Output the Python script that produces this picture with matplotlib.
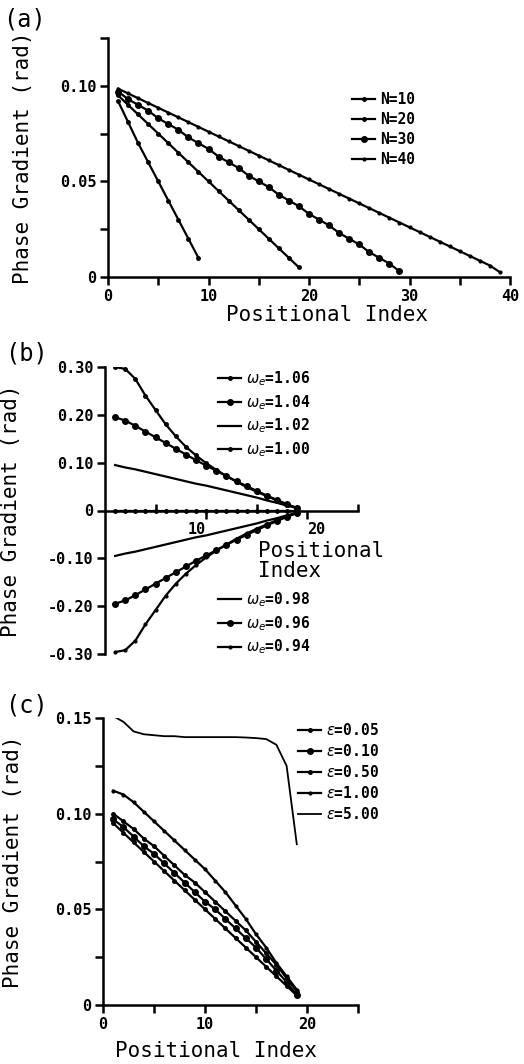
import matplotlib
matplotlib.use("Agg")
import matplotlib.pyplot as plt

# ---- data ----
# (a) phase gradient along chains of different length N
idx_a10 = list(range(1, 10))
idx_a20 = list(range(1, 20))
idx_a30 = list(range(1, 30))
idx_a40 = list(range(1, 40))
grad_n10 = [0.092, 0.081, 0.070, 0.060, 0.050, 0.040, 0.030, 0.020, 0.010]
grad_n20 = [0.095, 0.090, 0.085, 0.080, 0.075, 0.070, 0.065, 0.060, 0.055, 0.050,
            0.045, 0.040, 0.035, 0.030, 0.025, 0.020, 0.015, 0.010, 0.005]
grad_n30 = [0.097, 0.093, 0.090, 0.087, 0.083, 0.080, 0.077, 0.073, 0.070, 0.067,
            0.063, 0.060, 0.057, 0.053, 0.050, 0.047, 0.043, 0.040, 0.037, 0.033,
            0.030, 0.027, 0.023, 0.020, 0.017, 0.013, 0.010, 0.007, 0.003]
grad_n40 = [0.0985, 0.096, 0.0935, 0.091, 0.0885, 0.086, 0.0835, 0.081, 0.0785, 0.076,
            0.0735, 0.071, 0.0685, 0.066, 0.0635, 0.061, 0.0585, 0.056, 0.0535, 0.051,
            0.0485, 0.046, 0.0435, 0.041, 0.0385, 0.036, 0.0335, 0.031, 0.0285, 0.026,
            0.0235, 0.021, 0.0185, 0.016, 0.0135, 0.011, 0.0085, 0.006, 0.0025]
labels_a = ["N=10", "N=20", "N=30", "N=40"]

# (b) different external frequencies
idx_b = list(range(1, 20))
w106 = [0.300, 0.296, 0.275, 0.240, 0.210, 0.180, 0.155, 0.133, 0.115, 0.099,
        0.085, 0.072, 0.060, 0.049, 0.039, 0.030, 0.021, 0.012, 0.005]
w104 = [0.195, 0.188, 0.177, 0.165, 0.153, 0.141, 0.129, 0.117, 0.105, 0.094,
        0.083, 0.072, 0.061, 0.051, 0.041, 0.031, 0.022, 0.013, 0.005]
w102 = [0.095, 0.090, 0.086, 0.081, 0.076, 0.071, 0.066, 0.061, 0.056, 0.052,
        0.047, 0.042, 0.037, 0.032, 0.027, 0.021, 0.016, 0.010, 0.005]
w100 = [0.0] * 19
w098 = [-0.095, -0.090, -0.086, -0.081, -0.076, -0.071, -0.066, -0.061, -0.056, -0.052,
        -0.047, -0.042, -0.037, -0.032, -0.027, -0.021, -0.016, -0.010, -0.005]
w096 = [-0.195, -0.188, -0.177, -0.165, -0.153, -0.141, -0.129, -0.117, -0.105, -0.094,
        -0.083, -0.072, -0.061, -0.051, -0.041, -0.031, -0.022, -0.013, -0.005]
w094 = [-0.296, -0.292, -0.272, -0.238, -0.208, -0.178, -0.153, -0.132, -0.114, -0.098,
        -0.084, -0.071, -0.059, -0.048, -0.038, -0.029, -0.020, -0.012, -0.005]
labels_b_up = [r"$\omega_e$=1.06", r"$\omega_e$=1.04", r"$\omega_e$=1.02", r"$\omega_e$=1.00"]
labels_b_dn = [r"$\omega_e$=0.98", r"$\omega_e$=0.96", r"$\omega_e$=0.94"]

# (c) different coupling strengths
idx_c = list(range(1, 20))
eps005 = [0.095, 0.090, 0.085, 0.080, 0.075, 0.070, 0.065, 0.060, 0.055, 0.050,
          0.045, 0.040, 0.035, 0.030, 0.025, 0.020, 0.015, 0.010, 0.005]
eps010 = [0.097, 0.093, 0.088, 0.083, 0.079, 0.074, 0.069, 0.064, 0.059, 0.054,
          0.050, 0.045, 0.040, 0.035, 0.030, 0.024, 0.018, 0.012, 0.005]
eps050 = [0.100, 0.096, 0.092, 0.087, 0.083, 0.078, 0.073, 0.068, 0.064, 0.059,
          0.054, 0.049, 0.044, 0.039, 0.033, 0.027, 0.021, 0.014, 0.007]
eps100 = [0.112, 0.110, 0.106, 0.101, 0.096, 0.091, 0.086, 0.081, 0.076, 0.071,
          0.065, 0.059, 0.052, 0.045, 0.037, 0.030, 0.022, 0.015, 0.008]
eps500 = [0.151, 0.148, 0.143, 0.1415, 0.141, 0.1405, 0.1405, 0.140, 0.140, 0.140,
          0.140, 0.140, 0.140, 0.1398, 0.1395, 0.139, 0.136, 0.125, 0.084]
labels_c = [r"$\varepsilon$=0.05", r"$\varepsilon$=0.10", r"$\varepsilon$=0.50",
            r"$\varepsilon$=1.00", r"$\varepsilon$=5.00"]

# ---- styling ----
MONO = "DejaVu Sans Mono"
plt.rcParams["font.family"] = MONO
plt.rcParams["mathtext.fontset"] = "dejavusans"
W, H = 524, 1064
tick_font = dict(family=MONO, weight="bold", size=11)
lab_font = dict(family=MONO, size=15)
leg_font = dict(family=MONO, weight="bold", size=10.5)
LW = 1.6


def px_axes(left, top, right, bottom):
    return [left / W, 1 - bottom / H, (right - left) / W, (bottom - top) / H]


def style(ax):
    for s in ["top", "right"]:
        ax.spines[s].set_visible(False)
    for s in ["left", "bottom"]:
        ax.spines[s].set_linewidth(1.8)
    ax.tick_params(which="both", direction="out", length=6, width=1.8, pad=2.5)
    for t in ax.get_xticklabels() + ax.get_yticklabels():
        t.set_fontproperties(matplotlib.font_manager.FontProperties(**tick_font))


def add_legend(ax, handles, labels, x, y):
    leg = ax.legend(handles, labels, loc="upper left", bbox_to_anchor=(x / W, 1 - y / H),
                    bbox_transform=fig.transFigure, frameon=False, borderpad=0,
                    borderaxespad=0, handlelength=1.6, handletextpad=0.3,
                    labelspacing=0.35, prop=leg_font)
    return leg


fig = plt.figure(figsize=(W / 100, H / 100), dpi=100)

# ---------- (a) ----------
ax_a = fig.add_axes(px_axes(108, 38, 510, 277))
la = []
la += ax_a.plot(idx_a10, grad_n10, "k-", lw=LW, marker="o", ms=2.5)
la += ax_a.plot(idx_a20, grad_n20, "k-", lw=LW, marker="o", ms=2.5)
la += ax_a.plot(idx_a30, grad_n30, "k-", lw=LW, marker="o", ms=4)
la += ax_a.plot(idx_a40, grad_n40, "k-", lw=LW, marker="o", ms=2)
ax_a.set_xlim(0, 40)
ax_a.set_ylim(0, 0.125)
ax_a.set_xticks([0, 10, 20, 30, 40], ["0", "10", "20", "30", "40"])
ax_a.set_xticks([5, 15, 25, 35], minor=True)
ax_a.set_yticks([0, 0.05, 0.10], ["0", "0.05", "0.10"])
ax_a.set_yticks([0.025, 0.075, 0.125], minor=True)
style(ax_a)
ax_a.set_ylabel("Phase Gradient (rad)", **lab_font)
ax_a.yaxis.set_label_coords((33 - 108) / 402, 0.5)
ax_a.set_xlabel("Positional Index", **lab_font)
ax_a.xaxis.set_label_coords((327 - 108) / 402, (277 - 305) / 239)
add_legend(ax_a, la, labels_a, 352, 92)
fig.text(3 / W, 1 - 8 / H, "(a)", family=MONO, size=17, va="top", ha="left")

# ---------- (b) ----------
ax_b = fig.add_axes(px_axes(105, 367, 358, 654))
lb = []
lb += ax_b.plot(idx_b, w106, "k-", lw=LW, marker="o", ms=2.5)
lb += ax_b.plot(idx_b, w104, "k-", lw=LW, marker="o", ms=4)
lb += ax_b.plot(idx_b, w102, "k-", lw=LW)
lb += ax_b.plot(idx_b, w100, "k-", lw=LW, marker="o", ms=2.5)
lb2 = []
lb2 += ax_b.plot(idx_b, w098, "k-", lw=LW)
lb2 += ax_b.plot(idx_b, w096, "k-", lw=LW, marker="o", ms=4)
lb2 += ax_b.plot(idx_b, w094, "k-", lw=LW, marker="o", ms=2)
ax_b.set_xlim(0, 25)
ax_b.set_ylim(-0.30, 0.30)
ax_b.spines["bottom"].set_position(("data", 0))
ax_b.set_xticks([10, 20], ["10", "20"])
ax_b.set_xticks([5, 15, 25], minor=True)
ax_b.set_yticks([0.30, 0.20, 0.10, 0, -0.10, -0.20, -0.30],
                ["0.30", "0.20", "0.10", "0", "-0.10", "-0.20", "-0.30"])
style(ax_b)
ax_b.tick_params(axis="x", which="minor", direction="in", length=5)
xl = ax_b.get_xticklabels()
xl[0].set_ha("right")
xl[1].set_ha("left")
ax_b.set_ylabel("Phase Gradient (rad)", **lab_font)
ax_b.yaxis.set_label_coords((21 - 105) / 253, 0.5)
fig.text(258 / W, 1 - 541 / H, "Positional\nIndex", family=MONO, size=15,
         va="top", ha="left", linespacing=1.0)
leg_b = add_legend(ax_b, lb, labels_b_up, 218, 369)
ax_b.add_artist(leg_b)
add_legend(ax_b, lb2, labels_b_dn, 218, 590)
fig.text(5 / W, 1 - 341 / H, "(b)", family=MONO, size=17, va="top", ha="left")

# ---------- (c) ----------
ax_c = fig.add_axes(px_axes(103, 718, 358, 1005))
lc = []
lc += ax_c.plot(idx_c, eps005, "k-", lw=LW, marker="o", ms=2.5)
lc += ax_c.plot(idx_c, eps010, "k-", lw=LW, marker="o", ms=4)
lc += ax_c.plot(idx_c, eps050, "k-", lw=LW, marker="o", ms=2.5)
lc += ax_c.plot(idx_c, eps100, "k-", lw=LW, marker="o", ms=2)
lc += ax_c.plot(idx_c, eps500, "k-", lw=1.3)
ax_c.set_xlim(0, 25)
ax_c.set_ylim(0, 0.15)
ax_c.set_xticks([0, 10, 20], ["0", "10", "20"])
ax_c.set_xticks([5, 15, 25], minor=True)
ax_c.set_yticks([0, 0.05, 0.10, 0.15], ["0", "0.05", "0.10", "0.15"])
ax_c.set_yticks([0.025, 0.075, 0.125], minor=True)
style(ax_c)
ax_c.set_ylabel("Phase Gradient (rad)", **lab_font)
ax_c.yaxis.set_label_coords((23 - 103) / 255, 0.5)
ax_c.set_xlabel("Positional Index", **lab_font)
ax_c.xaxis.set_label_coords((216 - 103) / 255, (1005 - 1041) / 287)
add_legend(ax_c, lc, labels_c, 298, 722)
fig.text(5 / W, 1 - 693 / H, "(c)", family=MONO, size=17, va="top", ha="left")

fig.savefig("out.png", dpi=100)
